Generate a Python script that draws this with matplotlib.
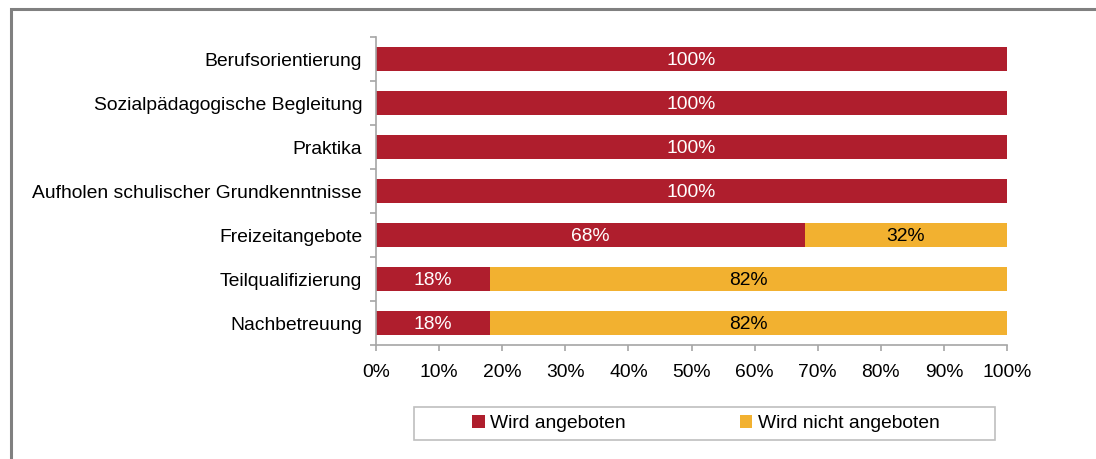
import matplotlib
matplotlib.use("Agg")
import matplotlib.pyplot as plt
from matplotlib.patches import Rectangle, Patch
from matplotlib.ticker import FixedLocator, PercentFormatter

plt.rcParams['font.family'] = ['Liberation Sans', 'DejaVu Sans']

categories = ["Berufsorientierung", "Sozialpädagogische Begleitung", "Praktika",
              "Aufholen schulischer Grundkenntnisse", "Freizeitangebote",
              "Teilqualifizierung", "Nachbetreuung"]
angeboten = [100, 100, 100, 100, 68, 18, 18]
nicht_angeboten = [0, 0, 0, 0, 32, 82, 82]
series_names = ["Wird angeboten", "Wird nicht angeboten"]
xticks = [0, 10, 20, 30, 40, 50, 60, 70, 80, 90, 100]

RED = "#AF1E2D"
YELLOW = "#F2B130"
GRAY = "#A6A6A6"
FS = 13.9

W, H = 1096, 459
fig = plt.figure(figsize=(W / 100, H / 100), dpi=100)
ax = fig.add_axes([376 / W, 1 - 345 / H, (1007 - 376) / W, (345 - 37) / H])

y = list(range(len(categories)))
ax.barh(y, angeboten, height=0.53, color=RED, label=series_names[0])
ax.barh(y, nicht_angeboten, left=angeboten, height=0.53, color=YELLOW, label=series_names[1])

for yi, a, n in zip(y, angeboten, nicht_angeboten):
    if a > 0:
        ax.text(a / 2, yi + 0.03, f"{a}%", ha="center", va="center", color="white", fontsize=FS)
    if n > 0:
        ax.text(a + n / 2, yi + 0.03, f"{n}%", ha="center", va="center", color="black", fontsize=FS)

ax.set_xlim(0, 100)
ax.set_ylim(len(categories) - 0.5, -0.5)
ax.set_yticks(y)
ax.set_yticklabels(categories, fontsize=FS)
ax.yaxis.set_minor_locator(FixedLocator([i - 0.5 for i in range(len(categories) + 1)]))
ax.tick_params(axis="y", which="major", length=0, pad=10)
ax.tick_params(axis="y", which="minor", length=4, color=GRAY, width=1.2)
ax.set_xticks(xticks)
ax.xaxis.set_major_formatter(PercentFormatter(decimals=0))
ax.tick_params(axis="x", which="major", length=4.5, color=GRAY, width=1.2, labelsize=FS, pad=9.5)
for s in ["top", "right"]:
    ax.spines[s].set_visible(False)
for s in ["left", "bottom"]:
    ax.spines[s].set_color(GRAY)
    ax.spines[s].set_linewidth(1.2)

# legend box
fig.patches.append(Rectangle((414 / W, 1 - 440 / H), (995 - 414) / W, 33 / H,
                             transform=fig.transFigure, fill=False, edgecolor="#BFBFBF",
                             linewidth=1.2))
handles = [Patch(facecolor=RED), Patch(facecolor=YELLOW)]
fig.legend(handles, series_names, loc="center", ncol=2, frameon=False,
           bbox_to_anchor=(706 / W, 1 - 423.5 / H), fontsize=FS,
           handlelength=0.63, handleheight=0.63, handletextpad=0.3, columnspacing=5.9)

# outer frame
fig.patches.append(Rectangle((11 / W, -0.1), 1.2, 1 - 9 / H + 0.1,
                             transform=fig.transFigure, fill=False, edgecolor="#808080",
                             linewidth=2.2, clip_on=False))

fig.savefig("out.png", dpi=100)
